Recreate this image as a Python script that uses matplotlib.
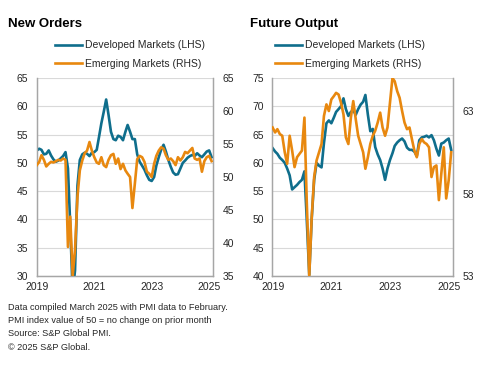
import matplotlib
matplotlib.use("Agg")
import matplotlib.pyplot as plt
import pandas as pd

plt.rcParams["font.family"] = ["Liberation Sans", "DejaVu Sans"]

months = pd.date_range("2019-01-01", "2025-02-01", freq="MS")

# New Orders (DM on left axis, EM on right axis)
orders_dm = [
    52.2, 52.5, 52.3, 51.5, 51.6, 52.2, 51.3, 50.6, 50.2, 50.4, 50.8, 51.2,
    51.9, 49.0, 39.0, 27.0, 31.0, 46.0, 50.5, 51.5, 51.8, 51.6, 51.2, 51.8,
    51.9, 52.3, 54.5, 57.0, 59.0, 61.2, 58.5, 55.5, 54.2, 54.0, 54.8, 54.6,
    54.0, 55.5, 56.7, 55.5, 54.2, 54.2, 51.5, 50.2, 49.5, 48.8, 47.8, 47.0,
    46.8, 47.5, 49.5, 51.0, 52.3, 53.2, 52.0, 50.5, 49.3, 48.3, 47.9, 48.0,
    49.0, 50.0, 50.4, 50.9, 51.2, 51.4, 51.2, 51.7, 51.3, 51.0, 51.5, 52.0,
    52.2, 51.0,
]
orders_em = [
    51.8, 52.3, 53.3, 52.6, 51.6, 52.0, 52.3, 52.2, 52.4, 52.6, 52.5, 52.8,
    52.6, 39.4, 44.0, 35.0, 39.0, 47.0, 51.0, 52.5, 53.6, 54.0, 55.3, 54.0,
    53.0, 52.2, 52.0, 53.0, 51.8, 51.5, 52.6, 53.3, 53.5, 52.0, 52.8, 51.2,
    52.0, 51.0, 50.5, 50.0, 45.3, 49.0, 52.7, 53.2, 53.0, 52.3, 50.8, 50.5,
    50.0, 52.0, 53.2, 54.0, 54.5, 54.3, 53.3, 52.6, 52.8, 52.4, 51.8, 53.0,
    52.5, 53.0, 53.8, 53.6, 54.0, 54.4, 52.8, 52.6, 52.8, 50.8, 52.4, 53.0,
    53.2, 52.4,
]

# Future Output (DM on left axis, EM on right axis)
output_dm = [
    62.6, 62.0, 61.6, 60.9, 60.5, 60.0, 59.0, 57.8, 55.3, 55.7, 56.1, 56.6,
    57.0, 58.5, 50.0, 40.2, 50.0, 57.0, 60.0, 59.5, 59.2, 63.5, 67.0, 67.5,
    67.0, 68.0, 69.0, 69.5, 70.0, 71.4, 69.5, 68.3, 69.0, 69.3, 68.5, 69.5,
    70.3, 70.8, 72.0, 68.5, 65.6, 66.0, 62.8, 61.5, 60.5, 59.0, 57.0, 59.0,
    60.5, 61.7, 63.0, 63.6, 64.0, 64.3, 63.8, 62.7, 62.3, 62.3, 62.0, 61.2,
    64.0, 64.5, 64.6, 64.8, 64.5, 64.9, 64.0, 62.5, 61.3, 63.4, 63.6, 64.0,
    64.3, 62.3,
]
output_em = [
    62.0, 61.7, 61.9, 61.6, 61.5, 60.5, 59.8, 61.5, 60.6, 59.6, 60.2, 60.4,
    60.6, 62.6, 57.5, 53.0, 56.5, 59.0, 60.0, 60.5, 61.0, 62.7, 63.4, 63.0,
    63.7, 63.9, 64.1, 64.0, 63.5, 62.8, 61.4, 61.0, 62.6, 63.6, 62.5, 61.5,
    61.0, 60.5, 59.5, 60.2, 61.0, 61.5, 61.8, 62.3, 62.9, 62.0, 61.5, 62.0,
    63.5, 65.0, 64.8, 64.2, 63.8, 63.0, 62.3, 61.9, 62.0, 61.3, 60.6, 60.2,
    61.0, 61.3, 61.1, 61.0, 60.8, 59.0, 59.6, 59.7, 57.6, 59.2, 60.8, 57.7,
    58.8, 60.5,
]

year_ticks = pd.to_datetime(["2019-01-01", "2021-01-01", "2023-01-01", "2025-01-01"])
year_labels = ["2019", "2021", "2023", "2025"]

TEAL = "#0f6e8c"
ORANGE = "#e8880f"
GRID = "#d9d9d9"
SPINE = "#a6a6a6"
TEXT = "#262626"

fig = plt.figure(figsize=(4.96, 3.65), dpi=100)


def draw_panel(left, width, title, title_x, dm, em, lhs, rhs, legend_x):
    ax = fig.add_axes([left, 0.2438, width, 0.5425])
    ax2 = ax.twinx()
    l1, = ax.plot(months, dm, color=TEAL, linewidth=1.9, label="Developed Markets (LHS)", zorder=3)
    l2, = ax2.plot(months, em, color=ORANGE, linewidth=1.9, label="Emerging Markets (RHS)", zorder=3)

    ax.set_ylim(lhs[0], lhs[-1])
    ax.set_yticks(lhs)
    ax2.set_ylim(rhs[0], rhs[1])
    ax2.set_yticks(rhs[2])
    ax.set_xlim(pd.Timestamp("2018-12-28"), pd.Timestamp("2025-02-20"))
    ax.set_xticks(year_ticks)
    ax.set_xticklabels(year_labels)
    ax.grid(True, axis="y", color=GRID, linewidth=0.8)
    ax.set_axisbelow(True)

    for a in (ax, ax2):
        a.spines["top"].set_visible(False)
        for s in ("left", "right", "bottom"):
            a.spines[s].set_color(SPINE)
            a.spines[s].set_linewidth(0.9)
        a.tick_params(length=0, labelsize=7.5, colors=TEXT)
    ax.tick_params(axis="y", pad=6)
    ax2.tick_params(axis="y", pad=7)
    ax.tick_params(axis="x", pad=4)

    fig.text(title_x, 0.925, title, fontsize=9.5, fontweight="bold", color="black")
    ax.legend(
        [l1, l2], [l1.get_label(), l2.get_label()],
        loc="lower left", bbox_to_anchor=(legend_x, 1.045),
        frameon=False, fontsize=7.5, handlelength=2.6, handletextpad=0.3,
        borderaxespad=0, borderpad=0, labelspacing=0.85, labelcolor=TEXT,
    )
    return ax


draw_panel(0.0736, 0.356, "New Orders", 0.016, orders_dm, orders_em,
           [30, 35, 40, 45, 50, 55, 60, 65], (35, 65, [35, 40, 45, 50, 55, 60, 65]), 0.105)
draw_panel(0.549, 0.3637, "Future Output", 0.504, output_dm, output_em,
           [40, 45, 50, 55, 60, 65, 70, 75], (53, 65, [53, 58, 63]), 0.015)

notes = [
    "Data compiled March 2025 with PMI data to February.",
    "PMI index value of 50 = no change on prior month",
    "Source: S&P Global PMI.",
    "\u00a9 2025 S&P Global.",
]
for k, line in enumerate(notes):
    fig.text(0.016, 1 - (307 + 13.5 * k) / 365, line, fontsize=6.6, color=TEXT, va="center")

fig.savefig("out.png", dpi=100)
